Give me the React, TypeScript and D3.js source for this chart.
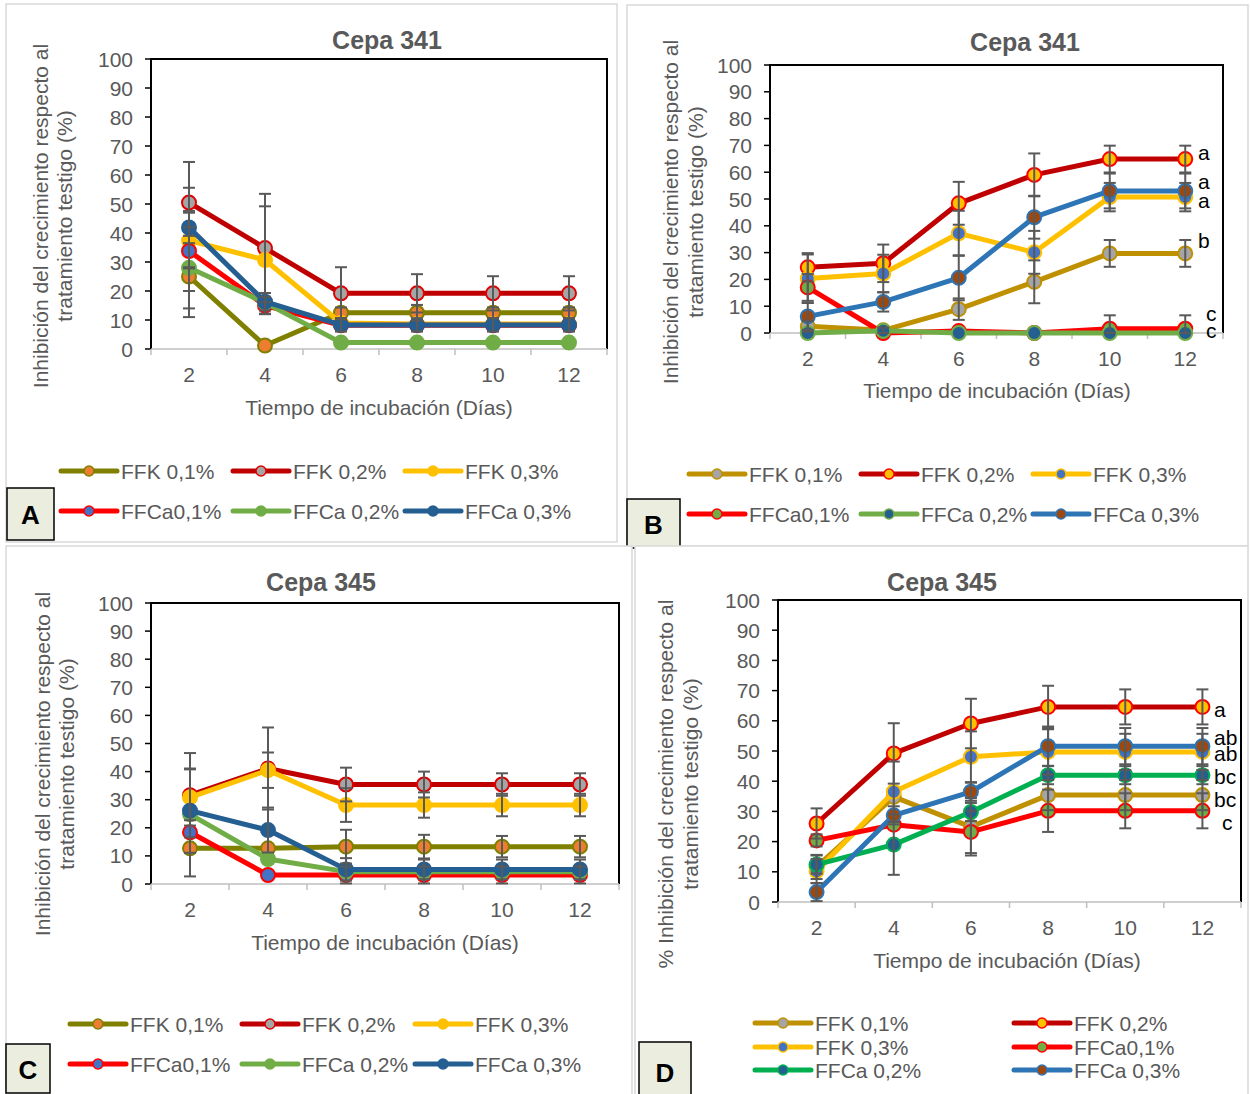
import React from "react";
import * as d3 from "d3";

// ---------- data ----------
const xTickLabels = ["2", "4", "6", "8", "10", "12"];
const yTickValues = [0, 10, 20, 30, 40, 50, 60, 70, 80, 90, 100];
const seriesNames = ["FFK 0,1%", "FFK 0,2%", "FFK 0,3%", "FFCa0,1%", "FFCa 0,2%", "FFCa 0,3%"];

// Panel A – Cepa 341
const a_FFK01 = [25, 1.2, 12.5, 12.5, 12.5, 12.5];
const a_FFK02 = [50.5, 34.8, 19.2, 19.2, 19.2, 19.2];
const a_FFK03 = [37.4, 30.7, 9, 8.6, 8.6, 8.6];
const a_FFCa01 = [33.8, 15, 8.2, 8.2, 8.2, 8.2];
const a_FFCa02 = [28, 16, 2.2, 2.2, 2.2, 2.2];
const a_FFCa03 = [41.9, 16.3, 8.3, 8.3, 8.3, 8.3];
const aErr_FFK01 = [14, 0, 1.8, 2.7, 1.8, 1.8];
const aErr_FFK02 = [14, 18.7, 9, 6.6, 5.9, 5.9];
const aErr_FFK03 = [9.6, 18.5, 0, 0, 0, 0];
const aErr_FFCa01 = [13.8, 3, 0, 0, 0, 0];
const aErr_FFCa02 = [14, 0, 0, 0, 0, 0];
const aErr_FFCa03 = [13.7, 3, 2.3, 2.3, 2.3, 2.3];

// Panel B – Cepa 341
const b_FFK01 = [2.5, 1, 8.9, 19.1, 29.7, 29.7];
const b_FFK02 = [24.5, 26, 48.4, 59, 64.9, 64.9];
const b_FFK03 = [20.3, 22.2, 37.2, 30.1, 50.7, 50.7];
const b_FFCa01 = [17, 0, 0.7, 0, 1.6, 1.6];
const b_FFCa02 = [0, 0.8, 0, 0, 0, 0];
const b_FFCa03 = [6.2, 11.6, 20.6, 43.2, 53, 53];
const bErr_FFK01 = [2, 1, 4, 8, 5, 5];
const bErr_FFK02 = [5.3, 7, 8, 8, 5, 5];
const bErr_FFK03 = [9, 7, 8.4, 8, 5.3, 5.3];
const bErr_FFCa01 = [5, 0, 0, 0, 5, 5];
const bErr_FFCa02 = [0, 0, 0, 0, 0, 0];
const bErr_FFCa03 = [5, 3.6, 8.4, 8, 6.5, 6.5];
const bLetters = ["a", "a", "a", "b", "c", "c"];
const bLetterValues = [67.5, 56.7, 49.6, 34.7, 7.1, 1.1];

// Panel C – Cepa 345
const c_FFK01 = [12.7, 12.7, 13.3, 13.3, 13.3, 13.3];
const c_FFK02 = [31.6, 41.1, 35.4, 35.4, 35.4, 35.4];
const c_FFK03 = [30.8, 40.5, 28.1, 28.1, 28.1, 28.1];
const c_FFCa01 = [18.4, 3.2, 3.2, 3.2, 3.2, 3.2];
const c_FFCa02 = [24.8, 8.9, 4.4, 4.4, 4.4, 4.4];
const c_FFCa03 = [26.1, 19.2, 5.2, 5.2, 5.2, 5.2];
const cErr_FFK01 = [10, 0, 6, 4.2, 3.8, 3.8];
const cErr_FFK02 = [15, 14.6, 6, 4.6, 4, 4];
const cErr_FFK03 = [10, 6.3, 6, 4.5, 4, 4];
const cErr_FFCa01 = [0, 0, 3, 3, 3, 3];
const cErr_FFCa02 = [0, 0, 0, 0, 0, 0];
const cErr_FFCa03 = [15, 8, 4, 3.5, 3.5, 3.5];

// Panel D – Cepa 345
const d_FFK01 = [11.6, 34.8, 24.9, 35.4, 35.4, 35.4];
const d_FFK02 = [26, 49.2, 59.1, 64.6, 64.6, 64.6];
const d_FFK03 = [10.2, 36.5, 48.1, 49.7, 49.7, 49.7];
const d_FFCa01 = [20.4, 25.6, 23.2, 30.2, 30.2, 30.2];
const d_FFCa02 = [12.4, 19, 29.8, 42, 42, 42];
const d_FFCa03 = [3.3, 28.7, 36.5, 51.6, 51.6, 51.6];
const dErr_FFK01 = [4, 0, 9.5, 5, 5, 5];
const dErr_FFK02 = [5, 10, 8.2, 7, 5.8, 5.8];
const dErr_FFK03 = [4, 10, 8.4, 7.5, 6, 6];
const dErr_FFCa01 = [2, 0, 7, 7, 5.8, 5.8];
const dErr_FFCa02 = [3, 10, 3, 3, 3, 3];
const dErr_FFCa03 = [3, 3, 3, 6.5, 6, 6];
const dLetters = ["a", "ab", "ab", "bc", "bc", "c"];
const dLetterValues = [63.9, 54.6, 49.3, 41.7, 33.8, 26.2];

// ---------- styles ----------
type SStyle = { line: string; fill: string; stroke: string };
const stylesAC: SStyle[] = [
  { line: "#808000", fill: "#ED7D31", stroke: "#808000" },
  { line: "#C00000", fill: "#A5A5A5", stroke: "#E00000" },
  { line: "#FFC000", fill: "#FFC000", stroke: "#FFC000" },
  { line: "#FF0000", fill: "#4472C4", stroke: "#FF0000" },
  { line: "#70AD47", fill: "#70AD47", stroke: "#70AD47" },
  { line: "#255E91", fill: "#255E91", stroke: "#255E91" },
];
const stylesB: SStyle[] = [
  { line: "#BF9000", fill: "#A5A5A5", stroke: "#BF9000" },
  { line: "#C00000", fill: "#FFC000", stroke: "#FF0000" },
  { line: "#FFC000", fill: "#4472C4", stroke: "#FFC000" },
  { line: "#FF0000", fill: "#70AD47", stroke: "#FF0000" },
  { line: "#70AD47", fill: "#255E91", stroke: "#70AD47" },
  { line: "#2E75B6", fill: "#9E480E", stroke: "#2E75B6" },
];
const stylesD: SStyle[] = stylesB.map((s, i) => (i === 4 ? { line: "#00B050", fill: "#255E91", stroke: "#00B050" } : s));

const FONT = "'Liberation Sans', Arial, sans-serif";
const GREY = "#595959";

type PanelCfg = {
  border: [number, number, number, number];
  plot: { l: number; r: number; t: number; b: number };
  title: string;
  titleX: number;
  titleY: number;
  yTitle: string[];
  yTitleX: number[];
  yTitleCY: number;
  xTitleX: number;
  xTitleY: number;
  styles: SStyle[];
  values: number[][];
  errors: number[][];
  legendCols: number[];
  legendRows: number[];
  box: { x: number; y: number; w: number; h: number; label: string };
  letters?: string[];
  letterValues?: number[];
  letterX?: number;
};

const Panel: React.FC<{ cfg: PanelCfg }> = ({ cfg }) => {
  const { l, r, t, b } = cfg.plot;
  const x = d3.scaleBand<string>().domain(xTickLabels).range([l, r]);
  const y = d3.scaleLinear().domain([0, 100]).range([b, t]);
  const cx = (i: number) => (x(xTickLabels[i]) as number) + x.bandwidth() / 2;
  const line = d3
    .line<number>()
    .x((_, i) => cx(i))
    .y((v) => y(v));
  const edges = xTickLabels.map((k) => x(k) as number).concat([r]);
  const legendLen = 56;
  const nCols = cfg.legendCols.length;
  return (
    <g>
      <rect
        x={cfg.border[0]}
        y={cfg.border[1]}
        width={cfg.border[2]}
        height={cfg.border[3]}
        fill="#fff"
        stroke="#D9D9D9"
        strokeWidth={1.5}
      />
      <text x={cfg.titleX} y={cfg.titleY} textAnchor="middle" fontFamily={FONT} fontWeight="bold" fontSize={25} fill={GREY}>
        {cfg.title}
      </text>
      {/* y title */}
      {cfg.yTitle.map((s, i) => (
        <text
          key={i}
          transform={`translate(${cfg.yTitleX[i]},${cfg.yTitleCY}) rotate(-90)`}
          textAnchor="middle"
          dominantBaseline="central"
          fontFamily={FONT}
          fontSize={21}
          fill={GREY}
        >
          {s}
        </text>
      ))}
      <text x={cfg.xTitleX} y={cfg.xTitleY} textAnchor="middle" dominantBaseline="central" fontFamily={FONT} fontSize={21} fill={GREY}>
        Tiempo de incubación (Días)
      </text>
      {/* y ticks */}
      {yTickValues.map((v) => (
        <g key={v}>
          <line x1={l - 6} x2={l} y1={y(v)} y2={y(v)} stroke="#000" strokeWidth={1.5} />
          <text x={l - 18} y={y(v)} textAnchor="end" dominantBaseline="central" fontFamily={FONT} fontSize={21} fill={GREY}>
            {v}
          </text>
        </g>
      ))}
      {/* x ticks */}
      {edges.map((e, i) => (
        <line key={i} x1={e} x2={e} y1={b} y2={b + 6} stroke="#BFBFBF" strokeWidth={1.5} />
      ))}
      {xTickLabels.map((k, i) => (
        <text key={k} x={cx(i)} y={b + 25} textAnchor="middle" dominantBaseline="central" fontFamily={FONT} fontSize={21} fill={GREY}>
          {k}
        </text>
      ))}
      {/* frame */}
      <path d={`M${l},${b} V${t} H${r} V${b}`} fill="none" stroke="#000" strokeWidth={2} />
      <line x1={l} x2={r} y1={b} y2={b} stroke="#BFBFBF" strokeWidth={1.5} />
      {/* series */}
      {cfg.values.map((vals, si) => {
        const st = cfg.styles[si];
        return (
          <g key={si}>
            <path d={line(vals) || ""} fill="none" stroke={st.line} strokeWidth={5} strokeLinejoin="round" strokeLinecap="round" />
            {vals.map((v, i) => (
              <circle key={i} cx={cx(i)} cy={y(v)} r={7} fill={st.fill} stroke={st.stroke} strokeWidth={2} />
            ))}
          </g>
        );
      })}
      {/* error bars */}
      {cfg.values.map((vals, si) =>
        vals.map((v, i) => {
          const e = cfg.errors[si][i];
          if (!e) return null;
          const px = cx(i);
          const y1 = y(Math.min(100, v + e));
          const y0 = y(Math.max(0, v - e));
          return (
            <g key={`${si}-${i}`} stroke="#595959" strokeWidth={2}>
              <line x1={px} x2={px} y1={y0} y2={y1} />
              <line x1={px - 6} x2={px + 6} y1={y1} y2={y1} />
              <line x1={px - 6} x2={px + 6} y1={y0} y2={y0} />
            </g>
          );
        })
      )}
      {/* letters */}
      {cfg.letters &&
        cfg.letters.map((s, i) => (
          <text
            key={i}
            x={(cfg.letterX as number) + (s === "c" ? 8 : 0)}
            y={y((cfg.letterValues as number[])[i])}
            dominantBaseline="central"
            fontFamily={FONT}
            fontSize={21}
            fill="#000"
          >
            {s}
          </text>
        ))}
      {/* legend */}
      {seriesNames.map((name, i) => {
        const col = i % nCols;
        const row = Math.floor(i / nCols);
        const lx = cfg.legendCols[col];
        const ly = cfg.legendRows[row];
        const st = cfg.styles[i];
        return (
          <g key={name}>
            <line x1={lx} x2={lx + legendLen} y1={ly} y2={ly} stroke={st.line} strokeWidth={5} strokeLinecap="round" />
            <circle cx={lx + legendLen / 2} cy={ly} r={5} fill={st.fill} stroke={st.stroke} strokeWidth={1.5} />
            <text x={lx + legendLen + 4} y={ly} dominantBaseline="central" fontFamily={FONT} fontSize={21} fill={GREY}>
              {name}
            </text>
          </g>
        );
      })}
      {/* label box */}
      <rect x={cfg.box.x} y={cfg.box.y} width={cfg.box.w} height={cfg.box.h} fill="#EBEEDF" stroke="#000" strokeWidth={1.5} />
      <text
        x={cfg.box.x + cfg.box.w / 2}
        y={cfg.box.y + cfg.box.h / 2 + 1}
        textAnchor="middle"
        dominantBaseline="central"
        fontFamily={FONT}
        fontWeight="bold"
        fontSize={26}
        fill="#000"
      >
        {cfg.box.label}
      </text>
    </g>
  );
};

const yTitleLines = ["Inhibición del crecimiento respecto al", "tratamiento testigo (%)"];

const panels: PanelCfg[] = [
  {
    border: [6, 4, 611, 538],
    plot: { l: 151, r: 607, t: 59, b: 349 },
    title: "Cepa 341",
    titleX: 387,
    titleY: 49,
    yTitle: yTitleLines,
    yTitleX: [40, 64],
    yTitleCY: 216,
    xTitleX: 379,
    xTitleY: 407,
    styles: stylesAC,
    values: [a_FFK01, a_FFK02, a_FFK03, a_FFCa01, a_FFCa02, a_FFCa03],
    errors: [aErr_FFK01, aErr_FFK02, aErr_FFK03, aErr_FFCa01, aErr_FFCa02, aErr_FFCa03],
    legendCols: [61, 233, 405],
    legendRows: [471, 511],
    box: { x: 7, y: 488, w: 47, h: 52, label: "A" },
  },
  {
    border: [627, 5, 621, 541],
    plot: { l: 770, r: 1223, t: 65, b: 333 },
    title: "Cepa 341",
    titleX: 1025,
    titleY: 51,
    yTitle: yTitleLines,
    yTitleX: [670, 695],
    yTitleCY: 212,
    xTitleX: 997,
    xTitleY: 390,
    styles: stylesB,
    values: [b_FFK01, b_FFK02, b_FFK03, b_FFCa01, b_FFCa02, b_FFCa03],
    errors: [bErr_FFK01, bErr_FFK02, bErr_FFK03, bErr_FFCa01, bErr_FFCa02, bErr_FFCa03],
    legendCols: [689, 861, 1033],
    legendRows: [474, 514],
    box: { x: 627, y: 499, w: 53, h: 49, label: "B" },
    letters: bLetters,
    letterValues: bLetterValues,
    letterX: 1198,
  },
  {
    border: [6, 546, 626, 560],
    plot: { l: 151, r: 619, t: 603, b: 884 },
    title: "Cepa 345",
    titleX: 321,
    titleY: 591,
    yTitle: yTitleLines,
    yTitleX: [42, 66],
    yTitleCY: 764,
    xTitleX: 385,
    xTitleY: 942,
    styles: stylesAC,
    values: [c_FFK01, c_FFK02, c_FFK03, c_FFCa01, c_FFCa02, c_FFCa03],
    errors: [cErr_FFK01, cErr_FFK02, cErr_FFK03, cErr_FFCa01, cErr_FFCa02, cErr_FFCa03],
    legendCols: [70, 242, 415],
    legendRows: [1024, 1064],
    box: { x: 6, y: 1044, w: 44, h: 49, label: "C" },
  },
  {
    border: [635, 546, 613, 560],
    plot: { l: 778, r: 1241, t: 600, b: 902 },
    title: "Cepa 345",
    titleX: 942,
    titleY: 591,
    yTitle: ["% Inhibición del crecimiento respecto al", "tratamiento testigo (%)"],
    yTitleX: [665, 690],
    yTitleCY: 784,
    xTitleX: 1007,
    xTitleY: 960,
    styles: stylesD,
    values: [d_FFK01, d_FFK02, d_FFK03, d_FFCa01, d_FFCa02, d_FFCa03],
    errors: [dErr_FFK01, dErr_FFK02, dErr_FFK03, dErr_FFCa01, dErr_FFCa02, dErr_FFCa03],
    legendCols: [755, 1014],
    legendRows: [1023, 1047, 1070],
    box: { x: 639, y: 1042, w: 52, h: 60, label: "D" },
    letters: dLetters,
    letterValues: dLetterValues,
    letterX: 1214,
  },
];

export default function App() {
  return (
    <div style={{ position: "absolute", left: 0, top: 0, width: 1250, height: 1094, overflow: "hidden", background: "#fff" }}>
      <svg width={1250} height={1094} viewBox="0 0 1250 1094" style={{ display: "block" }}>
        <rect width={1250} height={1094} fill="#fff" />
        {panels.map((p, i) => (
          <Panel key={i} cfg={p} />
        ))}
      </svg>
    </div>
  );
}
